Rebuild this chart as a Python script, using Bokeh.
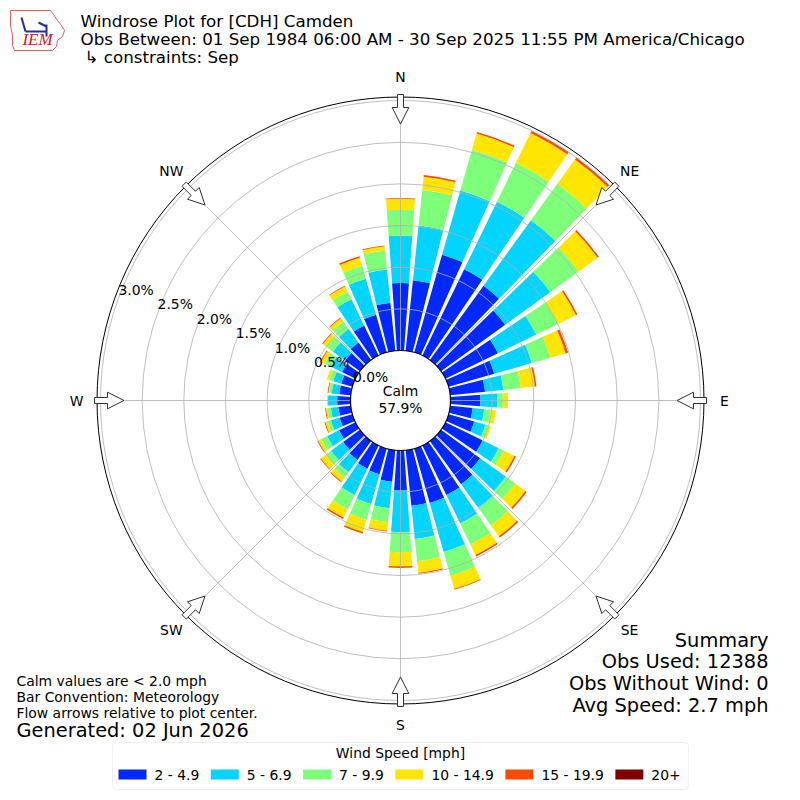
import numpy as np
from bokeh.plotting import figure
from bokeh.models import Range1d, BoxAnnotation
from bokeh.embed import file_html
from bokeh.resources import INLINE
from bokeh.core.properties import value

# ---------------- data ----------------
directions = list(range(0, 360, 10))  # compass degrees, bar centres
bin_labels = ["2 - 4.9", "5 - 6.9", "7 - 9.9", "10 - 14.9", "15 - 19.9", "20+"]
bin_colors = ["#0028ff", "#00d4ff", "#7dff7a", "#ffe500", "#ff4800", "#800000"]

# percent of observations per direction, per speed bin
spd_2_5 = [0.81, 0.85, 1.22, 1.15, 1.10, 0.95, 0.70, 0.57, 0.42, 0.36, 0.27, 0.32,
           0.50, 0.58, 0.64, 0.66, 0.68, 0.67, 0.48, 0.38, 0.32, 0.31, 0.28, 0.25,
           0.22, 0.16, 0.15, 0.16, 0.14, 0.14, 0.18, 0.22, 0.26, 0.40, 0.47, 0.58]
spd_5_7 = [0.57, 0.66, 0.80, 0.90, 0.97, 0.67, 0.51, 0.47, 0.22, 0.20, 0.14, 0.14,
           0.21, 0.38, 0.35, 0.38, 0.61, 0.40, 0.50, 0.32, 0.37, 0.35, 0.18, 0.18,
           0.16, 0.11, 0.09, 0.11, 0.09, 0.10, 0.15, 0.18, 0.20, 0.35, 0.45, 0.40]
spd_7_10 = [0.31, 0.43, 0.51, 0.52, 0.54, 0.42, 0.29, 0.23, 0.21, 0.07, 0.08, 0.04,
            0.07, 0.14, 0.26, 0.28, 0.30, 0.27, 0.24, 0.17, 0.20, 0.19, 0.08, 0.08,
            0.08, 0.04, 0.04, 0.01, 0.03, 0.05, 0.08, 0.10, 0.11, 0.10, 0.16, 0.23]
spd_10_15 = [0.13, 0.16, 0.20, 0.40, 0.36, 0.28, 0.24, 0.19, 0.17, 0.06, 0.06, 0.03,
             0.14, 0.15, 0.16, 0.14, 0.16, 0.14, 0.17, 0.10, 0.15, 0.11, 0.06, 0.07,
             0.04, 0.03, 0.02, 0.00, 0.01, 0.03, 0.05, 0.05, 0.05, 0.07, 0.10, 0.05]
spd_15_20 = [0.01, 0.02, 0.02, 0.03, 0.03, 0.02, 0.02, 0.03, 0.02, 0.00, 0.00, 0.00,
             0.02, 0.02, 0.02, 0.02, 0.01, 0.01, 0.02, 0.01, 0.02, 0.02, 0.01, 0.01,
             0.01, 0.01, 0.01, 0.00, 0.01, 0.00, 0.01, 0.01, 0.01, 0.01, 0.02, 0.01]
spd_20p = [0.0] * 36
speed_bins = [spd_2_5, spd_5_7, spd_7_10, spd_10_15, spd_15_20, spd_20p]

calm_pct = 57.9
r_ticks = [0.0, 0.5, 1.0, 1.5, 2.0, 2.5, 3.0]
compass_labels = ["N", "NE", "E", "SE", "S", "SW", "W", "NW"]
compass_angles = [0, 45, 90, 135, 180, 225, 270, 315]

title_lines = ["Windrose Plot for [CDH] Camden",
               "Obs Between: 01 Sep 1984 06:00 AM - 30 Sep 2025 11:55 PM America/Chicago",
               "\u21b3 constraints: Sep"]
note_lines = ["Calm values are < 2.0 mph", "Bar Convention: Meteorology",
              "Flow arrows relative to plot center."]
generated = "Generated: 02 Jun 2026"
summary_lines = ["Summary", "Obs Used: 12388", "Obs Without Wind: 0", "Avg Speed: 2.7 mph"]
legend_title = "Wind Speed [mph]"

# ---------------- polar scale (pixels) ----------------
R0 = 50.0          # radius of calm circle (0 %)
K = 250.0 / 3.0    # pixels per percent
RMAX = 303.5
HALF_W = 4.1       # half bar width, degrees
FONT = value("DejaVu Sans")


def X(xr):
    return xr - 400.0


def Y(yr):
    return 400.0 - yr


def rad(pct):
    return R0 + K * pct


p = figure(width=800, height=800, x_range=Range1d(-400, 400), y_range=Range1d(-400, 400),
           output_backend="svg", toolbar_location=None, min_border=0,
           x_axis_type=None, y_axis_type=None)
p.outline_line_color = None
p.grid.visible = False
p.background_fill_color = "white"
p.border_fill_color = "white"

# ---------------- bars ----------------
cum = np.zeros(len(directions))
dirs = np.array(directions, dtype=float)
for vals, col in zip(speed_bins, bin_colors):
    v = np.array(vals, dtype=float)
    lo = cum.copy()
    hi = cum + v
    m = v > 0
    if m.any():
        p.annular_wedge(x=0, y=0, inner_radius=rad(lo[m]), outer_radius=rad(hi[m]),
                        start_angle=np.radians(90 - dirs[m] - HALF_W),
                        end_angle=np.radians(90 - dirs[m] + HALF_W),
                        direction="anticlock", fill_color=col, line_color=None)
    cum = hi

# ---------------- grid ----------------
ring_r = [rad(t) for t in r_ticks[1:]]
p.circle(x=[0] * len(ring_r), y=[0] * len(ring_r), radius=ring_r, fill_color=None,
         line_color="#b0b0b0", line_width=0.8)
ca = np.radians(compass_angles)
p.segment(x0=0, y0=0, x1=RMAX * np.sin(ca), y1=RMAX * np.cos(ca),
          line_color="#b0b0b0", line_width=0.8)
p.circle(x=[0], y=[0], radius=[R0], fill_color="white", line_color="black", line_width=1.2)
p.circle(x=[0], y=[0], radius=[RMAX], fill_color=None, line_color="black", line_width=1.0)

# ---------------- flow arrows ----------------
shape_r = [306, 293, 293, 276.5, 293, 293, 306]
shape_v = [-3, -3, -8.3, 0, 8.3, 3, 3]
axs, ays = [], []
for a in ca:
    sr, sv = np.array(shape_r), np.array(shape_v)
    axs.append(list(sr * np.sin(a) + sv * np.cos(a)))
    ays.append(list(sr * np.cos(a) - sv * np.sin(a)))
p.patches(axs, ays, fill_color="white", line_color="#333333", line_width=1.0)

# compass labels
p.text(x=324 * np.sin(ca), y=324 * np.cos(ca), text=compass_labels, text_font=FONT,
       text_font_size="13.9px", text_align="center", text_baseline="middle", text_color="black")

# radial tick labels along ~290 deg
lab_dir = np.radians(290.3)
rt = np.array([rad(t) for t in r_ticks])
p.text(x=17 + rt * np.sin(lab_dir), y=6.6 + rt * np.cos(lab_dir),
       text=["%.1f%%" % t for t in r_ticks], text_font=FONT, text_font_size="13.9px",
       text_align="center", text_baseline="middle", text_color="black")

# calm text
p.text(x=[0, 0], y=[Y(390), Y(407)], text=["Calm", "%.1f%%" % calm_pct], text_font=FONT,
       text_font_size="13.9px", text_align="center", text_baseline="middle")

# ---------------- header ----------------
p.text(x=[X(80), X(80), X(84)], y=[Y(20), Y(38), Y(56)], text=title_lines, text_font=FONT,
       text_font_size="16.7px", text_align="left", text_baseline="middle")

# IEM logo (simple drawing)
logo_x = [10, 50, 53, 57, 61, 64, 62, 57, 56, 52, 14, 12, 12, 10]
logo_y = [10, 10, 14, 20, 25, 30, 36, 40, 46, 50, 50, 45, 35, 25]
p.patch([X(v) for v in logo_x], [Y(v) for v in logo_y], fill_color="white",
        line_color="#e06060", line_width=1)
p.multi_line(xs=[[X(21), X(25)], [X(25), X(46)], [X(38), X(46)], [X(46), X(46)]],
             ys=[[Y(17), Y(31)], [Y(31), Y(31)], [Y(22), Y(26)], [Y(24), Y(36)]],
             line_color="#2a2aa0", line_width=2)
p.text(x=[X(37)], y=[Y(39)], text=["IEM"], text_font=value("Liberation Serif"),
       text_font_style="italic", text_font_size="17px", text_color="#d42020",
       text_align="center", text_baseline="middle")

# ---------------- footer texts ----------------
p.text(x=[X(16)] * 3, y=[Y(680), Y(696), Y(712)], text=note_lines, text_font=FONT,
       text_font_size="13.9px", text_align="left", text_baseline="middle")
p.text(x=[X(16)], y=[Y(730)], text=[generated], text_font=FONT, text_font_size="19.4px",
       text_align="left", text_baseline="middle")
p.text(x=[X(768)] * 4, y=[Y(640), Y(661), Y(683), Y(705)], text=summary_lines, text_font=FONT,
       text_font_size="19.4px", text_align="right", text_baseline="middle")

# ---------------- legend ----------------
p.add_layout(BoxAnnotation(left=X(112), right=X(688), bottom=Y(789), top=Y(742),
                           fill_color="white", fill_alpha=1.0, line_color="#cccccc",
                           line_width=1, border_radius=4, level="underlay"))
p.text(x=[X(400)], y=[Y(752)], text=[legend_title], text_font=FONT, text_font_size="13.9px",
       text_align="center", text_baseline="middle")

em = {d: 0.636 for d in "0123456789"}
em.update({" ": 0.318, "-": 0.361, ".": 0.318, "+": 0.838})


def text_w(s, size=13.9):
    return sum(em.get(c, 0.6) for c in s) * size


xpos = 118.0
px0, px1, tx = [], [], []
for lab in bin_labels:
    px0.append(X(xpos))
    px1.append(X(xpos + 28))
    tx.append(X(xpos + 36))
    xpos += 36 + text_w(lab) + 11.5
p.quad(left=px0, right=px1, bottom=Y(779), top=Y(769), fill_color=bin_colors, line_color=None)
p.text(x=tx, y=[Y(774)] * 6, text=bin_labels, text_font=FONT, text_font_size="13.9px",
       text_align="left", text_baseline="middle")

open("out.html", "w").write(file_html(p, INLINE))
